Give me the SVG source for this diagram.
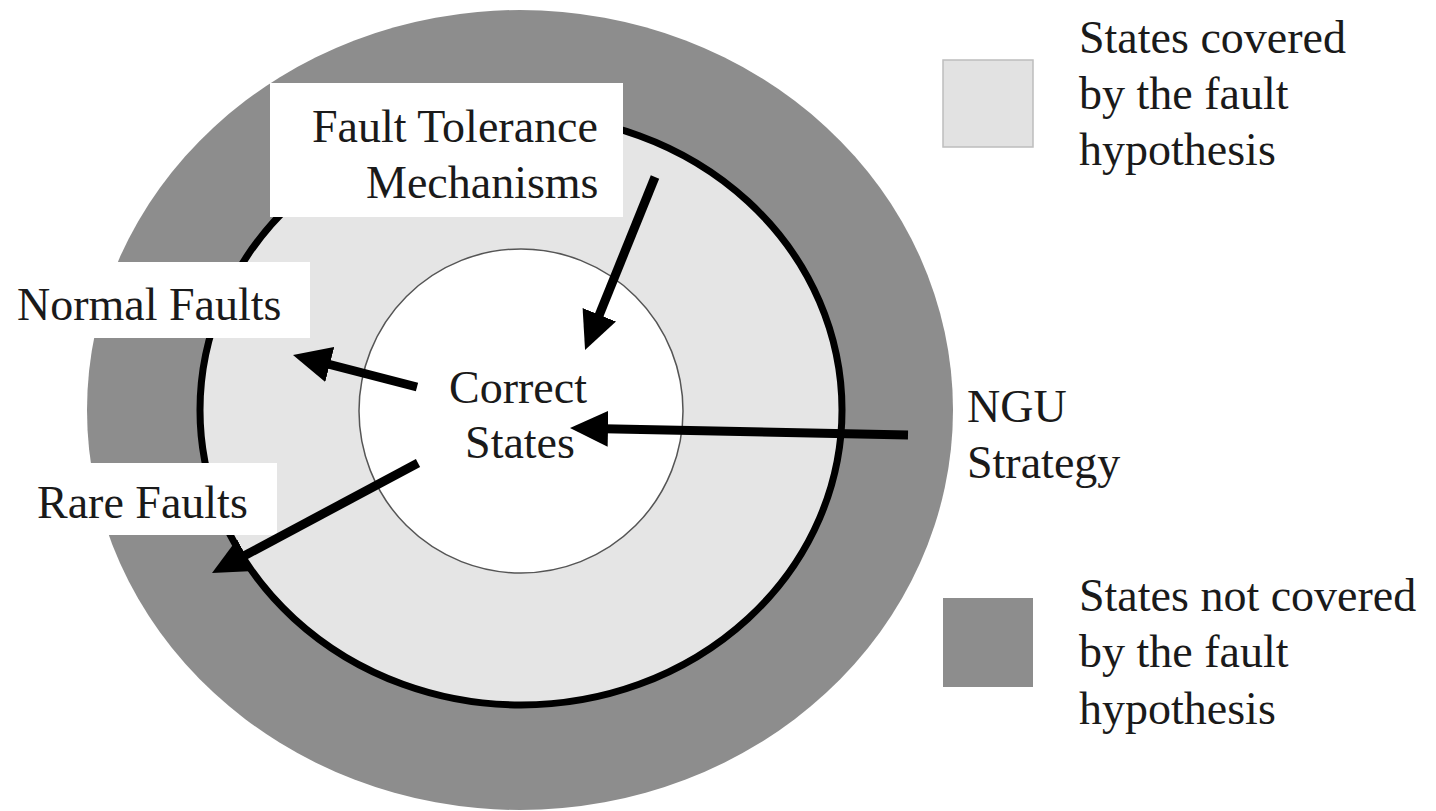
<svg xmlns="http://www.w3.org/2000/svg" width="1436" height="811" viewBox="0 0 1436 811">
<style>
  .dark { fill: #8d8d8d; }
  .light { fill: #e5e5e5; }
  .label { font-family: "Liberation Serif", "Times New Roman", serif; font-size: 46px; fill: #1a1a1a; }
  .box { fill: #ffffff; }
  .arrow { stroke: #000; stroke-width: 9; fill: none; marker-end: url(#head); }
</style>
<defs>
  <marker id="head" viewBox="0 0 40 36" refX="4" refY="18" markerWidth="40" markerHeight="36" markerUnits="userSpaceOnUse" orient="auto">
    <path d="M0,0 L38,18 L0,36 z" fill="#000"/>
  </marker>
</defs>
<rect width="1436" height="811" fill="#ffffff"/>

<g id="regions">
  <ellipse id="not-covered" class="dark" cx="520" cy="410" rx="433" ry="400"/>
  <ellipse id="covered" class="light" cx="521" cy="410" rx="321" ry="295" stroke="#000" stroke-width="7"/>
</g>

<g id="correct-states">
  <circle cx="521" cy="411" r="162" fill="#ffffff" stroke="#555" stroke-width="1.5"/>
  <text class="label" x="518" y="403" text-anchor="middle">Correct</text>
  <text class="label" x="520" y="458" text-anchor="middle">States</text>
</g>

<g id="fault-tolerance">
  <rect class="box" x="270" y="83" width="353" height="134"/>
  <text class="label" x="312" y="142">Fault Tolerance</text>
  <text class="label" x="366" y="198">Mechanisms</text>
</g>

<g id="normal-faults">
  <rect class="box" x="0" y="262" width="310" height="76"/>
  <text class="label" x="17" y="320">Normal Faults</text>
</g>

<g id="rare-faults">
  <rect class="box" x="35" y="463" width="242" height="72"/>
  <text class="label" x="37" y="518">Rare Faults</text>
</g>

<g id="ngu-strategy">
  <text class="label" x="967" y="422">NGU</text>
  <text class="label" x="967" y="478">Strategy</text>
</g>

<g id="legend-covered">
  <rect x="943" y="60" width="90" height="87" fill="#e2e2e2" stroke="#bdbdbd" stroke-width="1.5"/>
  <text class="label" x="1079" y="53">States covered</text>
  <text class="label" x="1079" y="109">by the fault</text>
  <text class="label" x="1079" y="165">hypothesis</text>
</g>

<g id="legend-not-covered">
  <rect x="943" y="598" width="90" height="89" fill="#8d8d8d"/>
  <text class="label" x="1079" y="611">States not covered</text>
  <text class="label" x="1079" y="667">by the fault</text>
  <text class="label" x="1079" y="724">hypothesis</text>
</g>

<g id="connectors">
  <line class="arrow" x1="655" y1="177" x2="597.8" y2="318.5"/>
  <line class="arrow" x1="417" y1="387" x2="325.9" y2="363.5"/>
  <line class="arrow" x1="418" y1="463" x2="242" y2="557"/>
  <line class="arrow" x1="908" y1="435" x2="604" y2="428.7"/>
</g>
</svg>
